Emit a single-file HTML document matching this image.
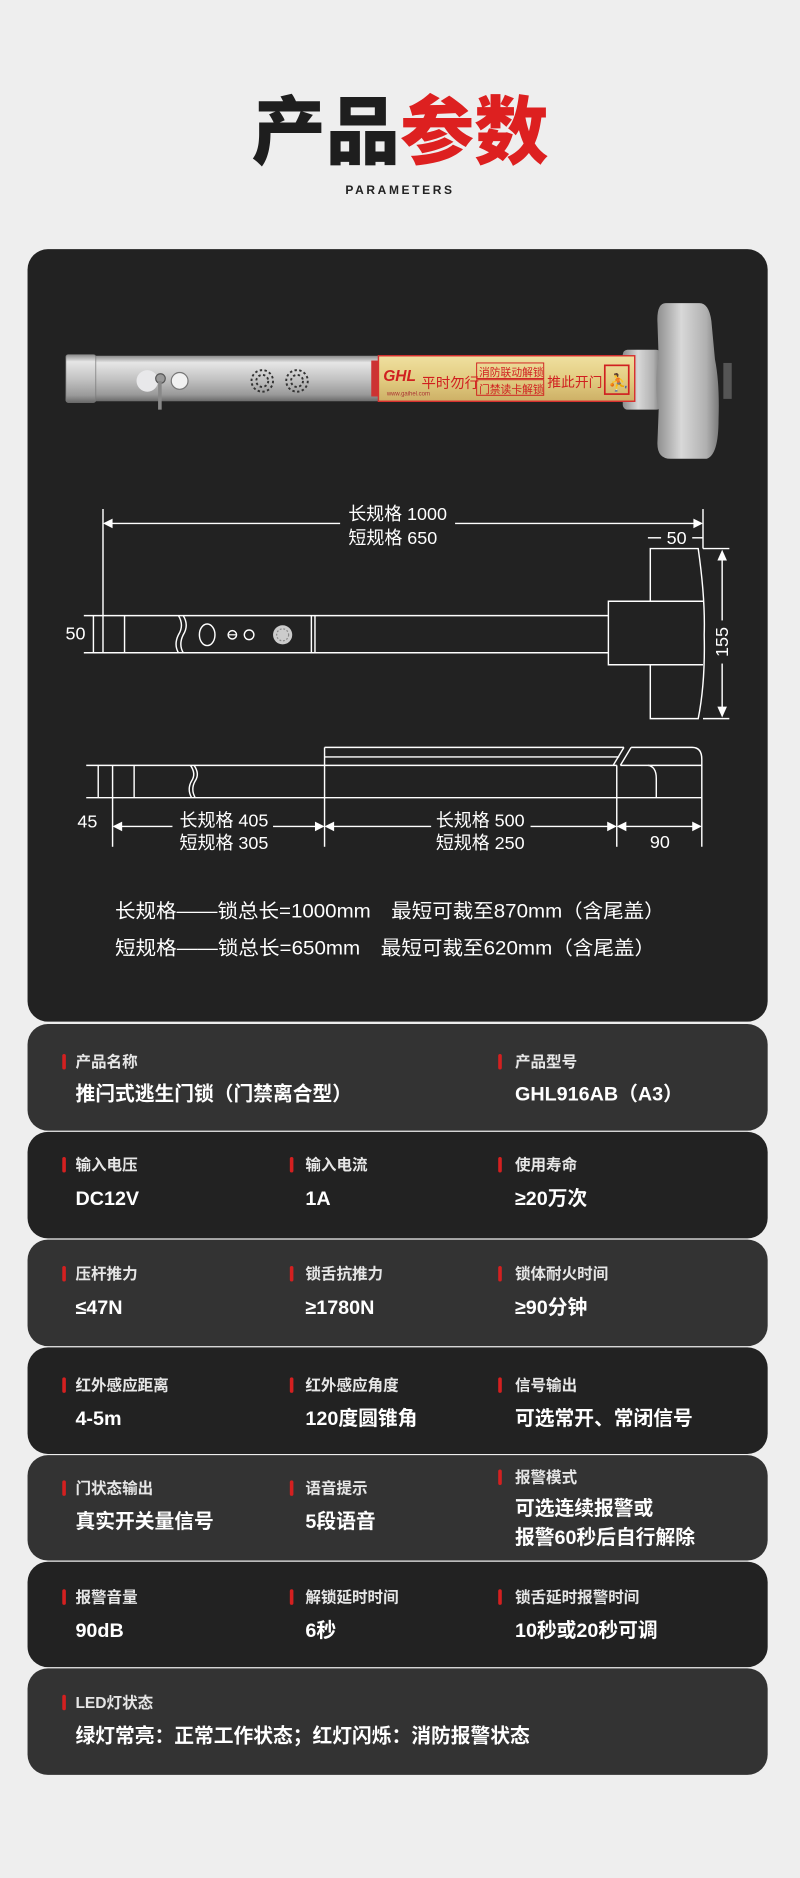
<!DOCTYPE html>
<html><head><meta charset="utf-8"><style>
html,body{margin:0;padding:0;background:#eeeeee;}
svg{display:block;}
text{font-family:"Liberation Sans","Noto Sans CJK SC",sans-serif;}
</style></head><body>
<svg width="800" height="1878" viewBox="0 0 668 1568" xmlns="http://www.w3.org/2000/svg">
<defs>
<linearGradient id="metal" x1="0" y1="0" x2="0" y2="1">
<stop offset="0" stop-color="#8a8a8a"/><stop offset="0.15" stop-color="#e6e6e6"/><stop offset="0.5" stop-color="#c4c4c4"/><stop offset="0.85" stop-color="#9a9a9a"/><stop offset="1" stop-color="#6a6a6a"/>
</linearGradient>
<linearGradient id="metalH" x1="0" y1="0" x2="1" y2="0">
<stop offset="0" stop-color="#8c8c8c"/><stop offset="0.4" stop-color="#d8d8d8"/><stop offset="0.8" stop-color="#b0b0b0"/><stop offset="1" stop-color="#7a7a7a"/>
</linearGradient>
<linearGradient id="gold" x1="0" y1="0" x2="0" y2="1">
<stop offset="0" stop-color="#efe0a0"/><stop offset="0.5" stop-color="#e3cd82"/><stop offset="1" stop-color="#cdb066"/>
</linearGradient>
</defs>
<rect x="0" y="0" width="668" height="1568" fill="#eeeeee"/>
<text x="334" y="132" text-anchor="middle" font-size="62" font-weight="900"><tspan fill="#1e1e1e">产品</tspan><tspan fill="#dd2020">参数</tspan></text>
<text x="334" y="162" text-anchor="middle" font-size="10" font-weight="bold" letter-spacing="2.2" fill="#222">PARAMETERS</text>

<rect x="23" y="208" width="618" height="645" rx="17" fill="#222222"/>

<rect x="520" y="292" width="32" height="50" rx="4" fill="url(#metalH)"/>
<path d="M556 253 Q548 253 549 270 L550 300 Q548 305 548 320 Q548 336 550 342 L549 368 Q548 383 560 383 L590 383 Q600 380 600 350 Q601 320 597 300 L594 268 Q592 253 584 253 Z" fill="url(#metalH)"/>
<rect x="604" y="303" width="7" height="30" fill="#555"/>
<rect x="58" y="297" width="262" height="38" fill="url(#metal)"/>
<rect x="55" y="296" width="25" height="40" rx="2" fill="url(#metal)" stroke="#777" stroke-width="0.6"/>
<circle cx="123" cy="318" r="9" fill="#e8e8ea"/>
<circle cx="150" cy="318" r="7" fill="#f2f2f2" stroke="#777"/>
<circle cx="134" cy="316" r="4" fill="#999" stroke="#555"/>
<rect x="132" y="318" width="3" height="24" fill="#888"/>
<g fill="none" stroke="#333" stroke-width="1.6" stroke-dasharray="2 2"><circle cx="219" cy="318" r="9"/><circle cx="219" cy="318" r="5"/><circle cx="248" cy="318" r="9"/><circle cx="248" cy="318" r="5"/></g>
<rect x="310" y="301" width="6" height="30" fill="#c33"/>
<rect x="316" y="297" width="214" height="38" fill="url(#gold)" stroke="#d83030" stroke-width="1.2"/>
<text x="320" y="318" font-size="13" font-weight="bold" font-style="italic" fill="#d02020">GHL</text>
<text x="323" y="330" font-size="5" fill="#a33">www.gaihel.com</text>
<text x="352" y="324" font-size="12" fill="#d02020">平时勿行</text>
<rect x="398" y="303" width="56" height="13" fill="none" stroke="#d02020" stroke-width="0.8"/>
<rect x="398" y="317" width="56" height="13" fill="none" stroke="#d02020" stroke-width="0.8"/>
<text x="400" y="314" font-size="9" fill="#d02020">消防联动解锁</text>
<text x="400" y="328" font-size="9" fill="#d02020">门禁读卡解锁</text>
<text x="457" y="323" font-size="11.5" fill="#d02020">推此开门</text>
<rect x="505" y="305" width="20" height="24" fill="none" stroke="#d02020" stroke-width="1.4"/>
<text x="508" y="324" font-size="14" fill="#d02020">⛹</text>

<g stroke="#fff" stroke-width="1.2" fill="none">
<line x1="86" y1="425" x2="86" y2="545"/>
<line x1="587" y1="425" x2="587" y2="458"/>
<line x1="89" y1="437" x2="284" y2="437"/>
<line x1="380" y1="437" x2="584" y2="437"/>
<line x1="541" y1="449" x2="552" y2="449"/>
<line x1="578" y1="449" x2="587" y2="449"/>
<path d="M543 458 L583 458 Q589 500 588 530 Q589 570 583 600 L543 600 L543 555 L508 555 L508 502 L543 502 Z"/>
<line x1="543" y1="502" x2="587" y2="502"/>
<line x1="543" y1="555" x2="587" y2="555"/>
<line x1="587" y1="458" x2="609" y2="458"/>
<line x1="587" y1="600" x2="609" y2="600"/>
<line x1="603" y1="462" x2="603" y2="518"/>
<line x1="603" y1="554" x2="603" y2="596"/>
<line x1="70" y1="514" x2="508" y2="514"/>
<line x1="70" y1="545" x2="508" y2="545"/>
<line x1="78" y1="514" x2="78" y2="545"/>
<line x1="104" y1="514" x2="104" y2="545"/>
<path d="M149 514 Q154 522 149 530 Q145 538 149 545"/>
<path d="M153 514 Q158 522 153 530 Q149 538 153 545"/>
<ellipse cx="173" cy="530" rx="6.5" ry="9"/>
<circle cx="194" cy="530" r="3.5"/>
<circle cx="208" cy="530" r="4"/>
<line x1="260" y1="514" x2="260" y2="545"/>
<line x1="263" y1="514" x2="263" y2="545"/>
</g>
<circle cx="236" cy="530" r="8" fill="#ccc"/>
<circle cx="236" cy="530" r="5" fill="none" stroke="#888" stroke-dasharray="1.5 1.5"/>
<line x1="191" y1="530" x2="197" y2="530" stroke="#fff"/>
<g fill="#fff">
<path d="M86 437 l8 -4 l0 8 z"/>
<path d="M587 437 l-8 -4 l0 8 z"/>
<path d="M603 459 l-4 9 l8 0 z"/>
<path d="M603 599 l-4 -9 l8 0 z"/>
</g>
<g fill="#fff" font-size="15">
<text x="332" y="434" text-anchor="middle">长规格 1000</text>
<text x="328" y="454" text-anchor="middle">短规格 650</text>
<text x="565" y="454" text-anchor="middle">50</text>
<text x="63" y="534" text-anchor="middle">50</text>
<text transform="translate(608,536) rotate(-90)" text-anchor="middle">155</text>
</g>

<g stroke="#fff" stroke-width="1.2" fill="none">
<line x1="72" y1="639" x2="515" y2="639"/>
<line x1="72" y1="666" x2="586" y2="666"/>
<line x1="82" y1="639" x2="82" y2="666"/>
<line x1="94" y1="639" x2="94" y2="707"/>
<line x1="112" y1="639" x2="112" y2="666"/>
<path d="M159 639 Q164 646 160 652 Q156 659 160 666"/>
<path d="M162 639 Q167 646 163 652 Q159 659 163 666"/>
<line x1="271" y1="624" x2="271" y2="707"/>
<line x1="271" y1="624" x2="521" y2="624"/>
<line x1="271" y1="632" x2="517" y2="632"/>
<path d="M521 624 L512 639"/>
<path d="M527 624 L518 639"/>
<path d="M527 624 L578 624 Q586 624 586 634 L586 707"/>
<line x1="515" y1="639" x2="515" y2="707"/>
<line x1="518" y1="639" x2="586" y2="639"/>
<path d="M541 639 Q548 640 548 650 L548 666"/>
<line x1="97" y1="690" x2="144" y2="690"/>
<line x1="228" y1="690" x2="268" y2="690"/>
<line x1="274" y1="690" x2="360" y2="690"/>
<line x1="443" y1="690" x2="512" y2="690"/>
<line x1="518" y1="690" x2="583" y2="690"/>
</g>
<g fill="#fff">
<path d="M94 690 l8 -4 l0 8 z"/><path d="M271 690 l-8 -4 l0 8 z"/>
<path d="M271 690 l8 -4 l0 8 z"/><path d="M515 690 l-8 -4 l0 8 z"/>
<path d="M515 690 l8 -4 l0 8 z"/><path d="M586 690 l-8 -4 l0 8 z"/>
</g>
<g fill="#fff" font-size="15">
<text x="73" y="691" text-anchor="middle">45</text>
<text x="187" y="690" text-anchor="middle">长规格 405</text>
<text x="187" y="709" text-anchor="middle">短规格 305</text>
<text x="401" y="690" text-anchor="middle">长规格 500</text>
<text x="401" y="709" text-anchor="middle">短规格 250</text>
<text x="551" y="708" text-anchor="middle">90</text>
<text x="96" y="766" font-size="16" textLength="459" lengthAdjust="spacingAndGlyphs">长规格——锁总长=1000mm　最短可裁至870mm（含尾盖）</text>
<text x="96" y="797" font-size="16" textLength="451" lengthAdjust="spacingAndGlyphs">短规格——锁总长=650mm　最短可裁至620mm（含尾盖）</text>
</g>

<rect x="23" y="855" width="618" height="89" rx="17" fill="#333333"/>
<rect x="23" y="945" width="618" height="89" rx="17" fill="#222222"/>
<rect x="23" y="1035" width="618" height="89" rx="17" fill="#333333"/>
<rect x="23" y="1125" width="618" height="89" rx="17" fill="#222222"/>
<rect x="23" y="1215" width="618" height="88" rx="17" fill="#333333"/>
<rect x="23" y="1304" width="618" height="88" rx="17" fill="#222222"/>
<rect x="23" y="1393" width="618" height="89" rx="17" fill="#333333"/>

<g fill="#d42020">
<rect x="52" y="880" width="3" height="13" rx="1.5"/><rect x="416" y="880" width="3" height="13" rx="1.5"/>
<rect x="52" y="966" width="3" height="13" rx="1.5"/><rect x="242" y="966" width="3" height="13" rx="1.5"/><rect x="416" y="966" width="3" height="13" rx="1.5"/>
<rect x="52" y="1057" width="3" height="13" rx="1.5"/><rect x="242" y="1057" width="3" height="13" rx="1.5"/><rect x="416" y="1057" width="3" height="13" rx="1.5"/>
<rect x="52" y="1150" width="3" height="13" rx="1.5"/><rect x="242" y="1150" width="3" height="13" rx="1.5"/><rect x="416" y="1150" width="3" height="13" rx="1.5"/>
<rect x="52" y="1236" width="3" height="13" rx="1.5"/><rect x="242" y="1236" width="3" height="13" rx="1.5"/><rect x="416" y="1227" width="3" height="13" rx="1.5"/>
<rect x="52" y="1327" width="3" height="13" rx="1.5"/><rect x="242" y="1327" width="3" height="13" rx="1.5"/><rect x="416" y="1327" width="3" height="13" rx="1.5"/>
<rect x="52" y="1415" width="3" height="13" rx="1.5"/>
</g>
<g fill="#e6e6e6" font-size="13" font-weight="bold">
<text x="63" y="891">产品名称</text><text x="430" y="891">产品型号</text>
<text x="63" y="977">输入电压</text><text x="255" y="977">输入电流</text><text x="430" y="977">使用寿命</text>
<text x="63" y="1068">压杆推力</text><text x="255" y="1068">锁舌抗推力</text><text x="430" y="1068">锁体耐火时间</text>
<text x="63" y="1161">红外感应距离</text><text x="255" y="1161">红外感应角度</text><text x="430" y="1161">信号输出</text>
<text x="63" y="1247">门状态输出</text><text x="255" y="1247">语音提示</text><text x="430" y="1238">报警模式</text>
<text x="63" y="1338">报警音量</text><text x="255" y="1338">解锁延时时间</text><text x="430" y="1338">锁舌延时报警时间</text>
<text x="63" y="1426">LED灯状态</text>
</g>
<g fill="#ffffff" font-size="16.5" font-weight="bold">
<text x="63" y="919">推闩式逃生门锁（门禁离合型）</text><text x="430" y="919">GHL916AB（A3）</text>
<text x="63" y="1006">DC12V</text><text x="255" y="1006">1A</text><text x="430" y="1006">≥20万次</text>
<text x="63" y="1097">≤47N</text><text x="255" y="1097">≥1780N</text><text x="430" y="1097">≥90分钟</text>
<text x="63" y="1190">4-5m</text><text x="255" y="1190">120度圆锥角</text><text x="430" y="1190">可选常开、常闭信号</text>
<text x="63" y="1276">真实开关量信号</text><text x="255" y="1276">5段语音</text><text x="430" y="1265">可选连续报警或</text><text x="430" y="1289">报警60秒后自行解除</text>
<text x="63" y="1367">90dB</text><text x="255" y="1367">6秒</text><text x="430" y="1367">10秒或20秒可调</text>
<text x="63" y="1455">绿灯常亮：正常工作状态；红灯闪烁：消防报警状态</text>
</g>
</svg>
</body></html>
